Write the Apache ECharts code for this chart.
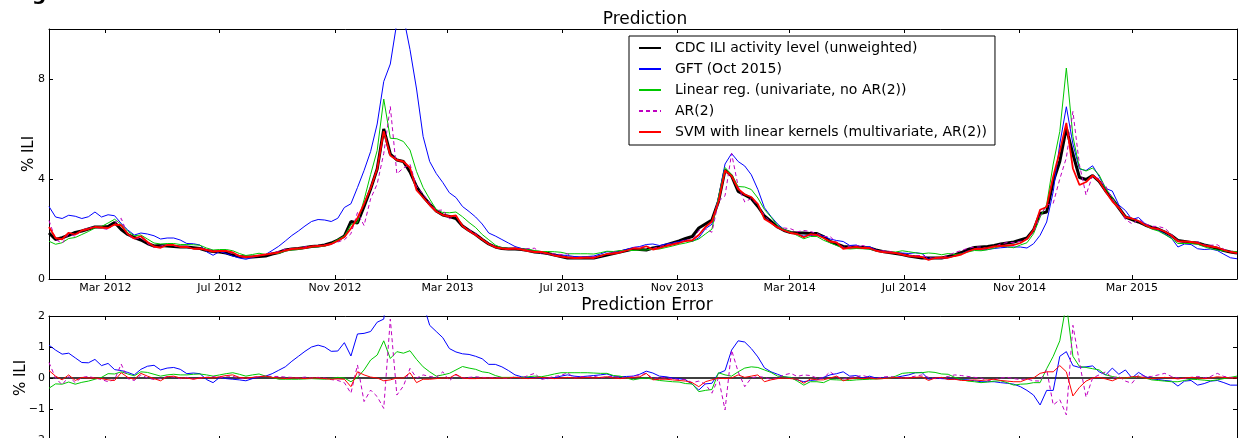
<!DOCTYPE html>
<html><head><meta charset="utf-8">
<script src="https://cdn.jsdelivr.net/npm/echarts@6/dist/echarts.min.js"></script>
<style>html,body{margin:0;padding:0;background:#fff}#c{width:1238px;height:438px}</style>
</head><body><div id="c"></div><script>
// ---- data (weekly, first week 2012-01-01) ----
const firstWeek = '2012-01-01';
const seriesNames = ['CDC ILI activity level (unweighted)', 'GFT (Oct 2015)', 'Linear reg. (univariate, no AR(2))', 'AR(2)', 'SVM with linear kernels (multivariate, AR(2))'];
const tickDates = ['2012-03-01','2012-07-01','2012-11-01','2013-03-01','2013-07-01','2013-11-01','2014-03-01','2014-07-01','2014-11-01','2015-03-01'];
const tickLabels = ['Mar 2012','Jul 2012','Nov 2012','Mar 2013','Jul 2013','Nov 2013','Mar 2014','Jul 2014','Nov 2014','Mar 2015'];
const topTicks = [0, 4, 8];
const errTicks = [-2, -1, 0, 1, 2];

const cdc = [1.84,1.58,1.65,1.75,1.86,1.92,2.0,2.08,2.08,2.1,
 2.26,1.98,1.78,1.66,1.56,1.42,1.32,1.34,1.32,1.30,
 1.28,1.28,1.25,1.22,1.14,1.10,1.08,1.04,0.96,0.90,
 0.88,0.88,0.90,0.92,1.0,1.06,1.16,1.20,1.22,1.26,
 1.30,1.32,1.36,1.44,1.56,1.72,2.30,2.24,2.90,3.6,
 4.4,6.0,5.0,4.76,4.7,4.28,3.7,3.3,3.0,2.72,
 2.56,2.50,2.42,2.12,1.94,1.78,1.58,1.40,1.28,1.22,
 1.20,1.20,1.18,1.14,1.08,1.06,1.02,0.96,0.90,0.84,
 0.84,0.84,0.84,0.84,0.90,0.96,1.02,1.08,1.14,1.20,
 1.18,1.16,1.24,1.28,1.36,1.44,1.52,1.62,1.70,2.04,
 2.2,2.36,3.1,4.36,4.12,3.5,3.36,3.22,2.90,2.52,
 2.30,2.08,1.94,1.86,1.84,1.84,1.82,1.82,1.70,1.50,
 1.40,1.30,1.28,1.28,1.26,1.24,1.16,1.10,1.06,1.02,
 0.98,0.92,0.88,0.84,0.84,0.84,0.84,0.90,0.96,1.06,
 1.18,1.26,1.28,1.30,1.34,1.40,1.44,1.48,1.56,1.64,
 1.96,2.62,2.68,3.9,4.7,6.04,5.0,4.06,3.98,4.14,
 3.90,3.52,3.20,2.84,2.48,2.38,2.28,2.16,2.06,2.00,
 1.88,1.74,1.54,1.50,1.46,1.44,1.36,1.30,1.22,1.14,
 1.08,1.04];

const errGFT = [1.06,0.9,0.77,0.8,0.65,0.5,0.49,0.6,0.4,0.47,
 0.27,0.24,0.18,0.1,0.28,0.38,0.41,0.26,0.32,0.34,
 0.28,0.14,0.16,0.14,-0.05,-0.15,0.02,-0.02,-0.04,-0.06,
 -0.09,-0.02,0.03,0.06,0.14,0.25,0.36,0.54,0.7,0.86,
 1.0,1.06,1.0,0.86,0.87,1.14,0.71,1.42,1.44,1.5,
 1.8,1.9,3.6,5.5,5.8,4.9,3.9,2.4,1.7,1.5,
 1.3,0.95,0.84,0.78,0.76,0.7,0.62,0.44,0.44,0.36,
 0.24,0.1,0.04,0.0,0.02,0.0,-0.02,0.0,0.06,0.1,
 0.06,0.04,0.06,0.08,0.1,0.13,0.06,0.04,0.05,0.06,
 0.12,0.22,0.16,0.06,0.04,0.0,-0.02,-0.06,-0.2,-0.39,
 -0.19,-0.17,0.15,0.24,0.9,1.2,1.16,0.95,0.68,0.33,
 0.2,0.12,0.04,0.0,-0.06,-0.12,-0.08,-0.06,0.02,0.1,
 0.14,0.2,0.06,0.08,-0.01,0.06,0.0,0.0,0.02,0.02,
 0.06,0.1,0.17,0.18,-0.04,0.0,-0.02,-0.03,-0.04,-0.05,
 -0.06,-0.09,-0.12,-0.12,-0.12,-0.15,-0.17,-0.2,-0.28,-0.4,
 -0.55,-0.87,-0.4,-0.4,0.7,0.85,0.4,0.34,0.36,0.39,
 0.2,0.1,0.32,0.12,0.26,0.0,0.18,0.05,-0.03,-0.05,
 -0.08,-0.1,-0.26,-0.1,-0.08,-0.23,-0.18,-0.1,-0.08,-0.15,
 -0.23,-0.23];

const errLR = [-0.33,-0.19,-0.2,-0.13,-0.2,-0.14,-0.1,-0.04,0.02,0.14,
 0.13,0.2,0.13,0.07,0.2,0.18,0.12,0.06,0.1,0.12,
 0.1,0.1,0.12,0.13,0.1,0.06,0.1,0.14,0.17,0.12,
 0.06,0.1,0.13,0.06,0.02,-0.04,-0.04,-0.04,-0.04,-0.03,
 -0.02,-0.03,-0.04,-0.02,0.02,0.0,-0.12,0.02,0.26,0.58,
 0.74,1.2,0.63,0.85,0.8,0.88,0.6,0.36,0.2,0.06,
 0.1,0.15,0.26,0.37,0.32,0.28,0.2,0.17,0.08,0.02,
 0.02,0.02,0.02,0.04,0.06,0.04,0.08,0.13,0.17,0.17,
 0.17,0.17,0.17,0.16,0.15,0.15,0.08,0.06,0.0,-0.06,
 -0.02,0.0,-0.04,-0.08,-0.1,-0.12,-0.13,-0.18,-0.19,-0.44,
 -0.4,-0.37,0.17,0.1,0.06,0.2,0.32,0.36,0.34,0.26,
 0.18,0.06,0.04,0.02,-0.1,-0.23,-0.12,-0.12,-0.15,-0.05,
 -0.06,-0.07,-0.08,-0.06,-0.05,-0.04,-0.03,-0.02,0.0,0.06,
 0.15,0.17,0.17,0.17,0.2,0.18,0.13,0.12,0.02,-0.05,
 -0.1,-0.12,-0.15,-0.13,-0.1,-0.09,-0.15,-0.23,-0.2,-0.19,
 -0.15,-0.15,0.3,0.7,1.2,2.4,0.7,0.37,0.34,0.3,
 0.26,0.1,0.05,0.0,0.0,0.02,0.04,0.0,-0.06,-0.08,
 -0.1,-0.12,-0.12,-0.08,-0.04,-0.05,-0.07,-0.09,-0.06,-0.02,
 0.02,0.06];

const errAR = [0.5,0.0,-0.22,0.05,-0.15,0.02,0.05,0.0,-0.05,-0.12,
 -0.05,0.45,-0.02,-0.08,0.1,0.0,-0.05,-0.02,0.05,0.03,
 -0.02,0.02,-0.03,0.0,0.02,0.05,0.0,0.06,0.05,0.0,
 -0.03,0.02,0.05,0.06,0.05,0.05,0.03,0.02,0.0,0.03,
 0.0,0.02,0.0,-0.05,-0.08,-0.15,-0.49,0.42,-0.76,-0.39,
 -0.6,-0.98,1.9,-0.55,-0.26,0.31,0.0,0.1,0.05,0.02,
 0.2,-0.09,0.1,0.0,0.02,0.04,0.02,0.0,0.02,0.0,
 -0.02,0.04,0.0,0.08,0.15,-0.05,0.0,0.05,0.08,0.17,
 0.0,0.05,0.02,0.06,0.0,0.04,0.05,0.02,0.0,0.06,
 0.1,0.15,-0.02,0.02,0.0,-0.02,-0.05,-0.05,-0.15,-0.1,
 -0.2,-0.49,0.0,-1.03,0.9,0.2,-0.28,0.0,0.05,0.02,
 -0.05,0.0,0.1,0.15,0.05,0.1,0.08,0.0,0.0,0.2,
 0.05,-0.03,0.02,0.05,0.08,0.02,-0.02,0.03,0.05,0.02,
 0.0,0.02,0.06,0.1,0.02,-0.02,0.0,0.05,0.1,0.08,
 0.05,0.02,0.0,-0.09,-0.05,0.0,0.02,-0.02,-0.05,-0.03,
 -0.09,-0.1,0.28,-0.87,-0.7,-1.19,1.7,0.5,-0.62,0.0,
 0.1,0.2,0.0,0.05,-0.1,-0.17,0.1,0.05,0.05,0.1,
 0.15,0.05,0.0,-0.02,0.02,0.05,0.0,0.05,0.15,0.05,
 0.02,0.0];

const errSVM = [0.24,0.06,-0.06,0.1,-0.08,0.02,0.0,0.0,-0.02,-0.06,
 -0.08,0.17,0.02,-0.04,0.15,0.06,-0.02,-0.09,0.04,0.06,
 0.0,0.0,-0.04,0.0,0.02,0.0,0.04,0.08,0.1,0.02,
 0.0,0.02,0.04,0.06,0.02,0.0,-0.02,0.0,0.0,-0.02,
 0.0,0.0,-0.02,-0.04,-0.03,-0.04,-0.28,0.2,0.1,0.03,
 0.0,-0.09,-0.06,0.0,0.0,0.17,-0.15,-0.04,-0.04,-0.02,
 0.0,0.0,0.12,0.0,-0.02,-0.02,0.0,0.0,-0.01,0.0,
 0.0,0.02,0.0,-0.02,0.0,0.02,0.0,-0.02,0.0,0.02,
 0.0,0.0,0.02,0.0,0.02,0.04,0.0,-0.02,0.0,0.02,
 0.04,0.15,-0.06,-0.04,-0.04,-0.06,-0.08,-0.1,-0.15,-0.28,
 -0.12,-0.06,0.0,-0.02,0.0,0.1,0.02,0.06,0.1,-0.12,
 -0.06,-0.02,0.0,-0.02,-0.04,-0.17,-0.03,-0.06,-0.06,0.0,
 0.06,-0.09,-0.03,0.0,-0.02,0.0,-0.03,-0.02,0.0,0.02,
 0.0,0.0,0.02,0.04,-0.08,0.0,0.02,-0.05,-0.04,-0.08,
 -0.08,-0.06,-0.08,-0.06,-0.04,-0.08,-0.1,-0.12,-0.12,-0.04,
 0.0,0.15,0.2,0.2,0.4,0.2,-0.58,-0.3,-0.1,0.0,
 0.02,-0.03,-0.09,0.0,0.0,0.04,0.04,0.0,-0.02,0.0,
 0.02,0.0,-0.03,0.0,0.02,0.0,-0.02,0.0,0.04,0.02,
 0.0,0.0];

// ---- derived ----
const DAY = 86400000;
const t0 = Date.parse(firstWeek + 'T00:00:00Z');
const dates = cdc.map((_, i) => t0 + i * 7 * DAY);
const tickVals = tickDates.map(s => Date.parse(s + 'T00:00:00Z'));
const xmin = dates[0], xmax = dates[dates.length - 1];
const r2 = v => Math.round(v * 1000) / 1000;
const pred = err => err.map((e, i) => [dates[i], r2(cdc[i] + e)]);
const errPts = err => err.map((e, i) => [dates[i], e]);

const FONT = 'DejaVu Sans';
const colors = ['#000000', '#0000ff', '#00c800', '#c000c0', '#ff0000'];
const widths = [3, 1, 1, 1, 1.8];
const types = ['solid', 'solid', 'solid', [4, 3], 'solid'];
const errs = [null, errGFT, errLR, errAR, errSVM];

function xAx(grid, pos, labels) {
  return {
    type: 'value', gridIndex: grid, position: pos, min: xmin, max: xmax,
    axisLine: { show: true, onZero: false, lineStyle: { color: '#000', width: 1 } },
    axisTick: { show: true, inside: true, length: 4, customValues: tickVals, lineStyle: { color: '#000' } },
    axisLabel: { show: labels, customValues: tickVals, margin: 4, color: '#000', fontFamily: FONT, fontSize: 11,
      formatter: v => { const k = tickVals.indexOf(v); return k >= 0 ? tickLabels[k] : ''; } },
    splitLine: { show: false }
  };
}
function yAx(grid, pos, min, max, ticks, labels, name) {
  return {
    type: 'value', gridIndex: grid, position: pos, min: min, max: max,
    name: name || '', nameLocation: 'middle', nameGap: grid === 0 ? 12 : 20, nameMoveOverlap: false,
    nameTextStyle: { fontFamily: FONT, fontSize: 15, color: '#000' },
    axisLine: { show: true, onZero: false, lineStyle: { color: '#000', width: 1 } },
    axisTick: { show: true, inside: true, length: 4, customValues: ticks, lineStyle: { color: '#000' } },
    axisLabel: { show: labels, customValues: ticks, margin: 4, color: '#000', fontFamily: FONT, fontSize: 11,
      formatter: v => (v < 0 ? '\u2212' + Math.abs(v) : String(v)) },
    splitLine: { show: false }
  };
}

const series = [];
seriesNames.forEach((n, k) => {
  series.push({
    name: n, type: 'line', xAxisIndex: 0, yAxisIndex: 0, symbol: 'none', clip: true,
    data: k === 0 ? cdc.map((v, i) => [dates[i], v]) : pred(errs[k]),
    lineStyle: { color: colors[k], width: widths[k], type: types[k] },
    itemStyle: { color: colors[k] }, z: 2 + k
  });
});
series.push({
  name: 'CDC error', type: 'line', xAxisIndex: 2, yAxisIndex: 2, symbol: 'none',
  data: cdc.map((v, i) => [dates[i], r2(v - v)]),
  lineStyle: { color: '#000', width: 1.5 }, z: 2
});
[1, 2, 3, 4].forEach(k => {
  series.push({
    name: seriesNames[k] + ' error', type: 'line', xAxisIndex: 2, yAxisIndex: 2, symbol: 'none', clip: true,
    data: errPts(errs[k]),
    lineStyle: { color: colors[k], width: 1, type: types[k] }, z: 2 + k
  });
});

const chart = echarts.init(document.getElementById('c'), null, { renderer: 'canvas' });
chart.setOption({
  animation: false,
  backgroundColor: '#fff',
  textStyle: { fontFamily: FONT },
  grid: [
    { left: 49, top: 29, width: 1188, height: 250, outerBoundsMode: 'none', containLabel: false },
    { left: 49, top: 316, width: 1188, height: 124, outerBoundsMode: 'none', containLabel: false }
  ],
  xAxis: [xAx(0, 'bottom', true), xAx(0, 'top', false), xAx(1, 'bottom', false), xAx(1, 'top', false)],
  yAxis: [
    yAx(0, 'left', 0, 10, topTicks, true, '% ILI'),
    yAx(0, 'right', 0, 10, topTicks, false),
    yAx(1, 'left', -2, 2, errTicks, true, '% ILI'),
    yAx(1, 'right', -2, 2, errTicks, false)
  ],
  legend: {
    data: seriesNames, orient: 'vertical', left: 629, top: 36,
    itemWidth: 22, itemHeight: 14, itemGap: 7, padding: [5, 8, 6, 9],
    borderColor: '#000', borderWidth: 1, backgroundColor: '#fff', borderRadius: 0,
    selectedMode: false,
    itemStyle: { color: 'rgba(0,0,0,0)', borderColor: 'rgba(0,0,0,0)', borderWidth: 0, opacity: 0 },
    textStyle: { fontFamily: FONT, fontSize: 14, color: '#000', padding: [0, 0, 0, 9], lineHeight: 14 }
  },
  graphic: [
    { type: 'text', x: 645, y: 20, style: { text: 'Prediction', fontFamily: FONT, fontSize: 17, fill: '#000', align: 'center', verticalAlign: 'middle' } },
    { type: 'text', x: 647, y: 306, style: { text: 'Prediction Error', fontFamily: FONT, fontSize: 17, fill: '#000', align: 'center', verticalAlign: 'middle' } },
    { type: 'text', x: 32, y: -15, style: { text: 'g', fontFamily: FONT, fontSize: 20, fontWeight: 'bold', fill: '#000', verticalAlign: 'top' } }
  ],
  series: series
});
</script></body></html>
